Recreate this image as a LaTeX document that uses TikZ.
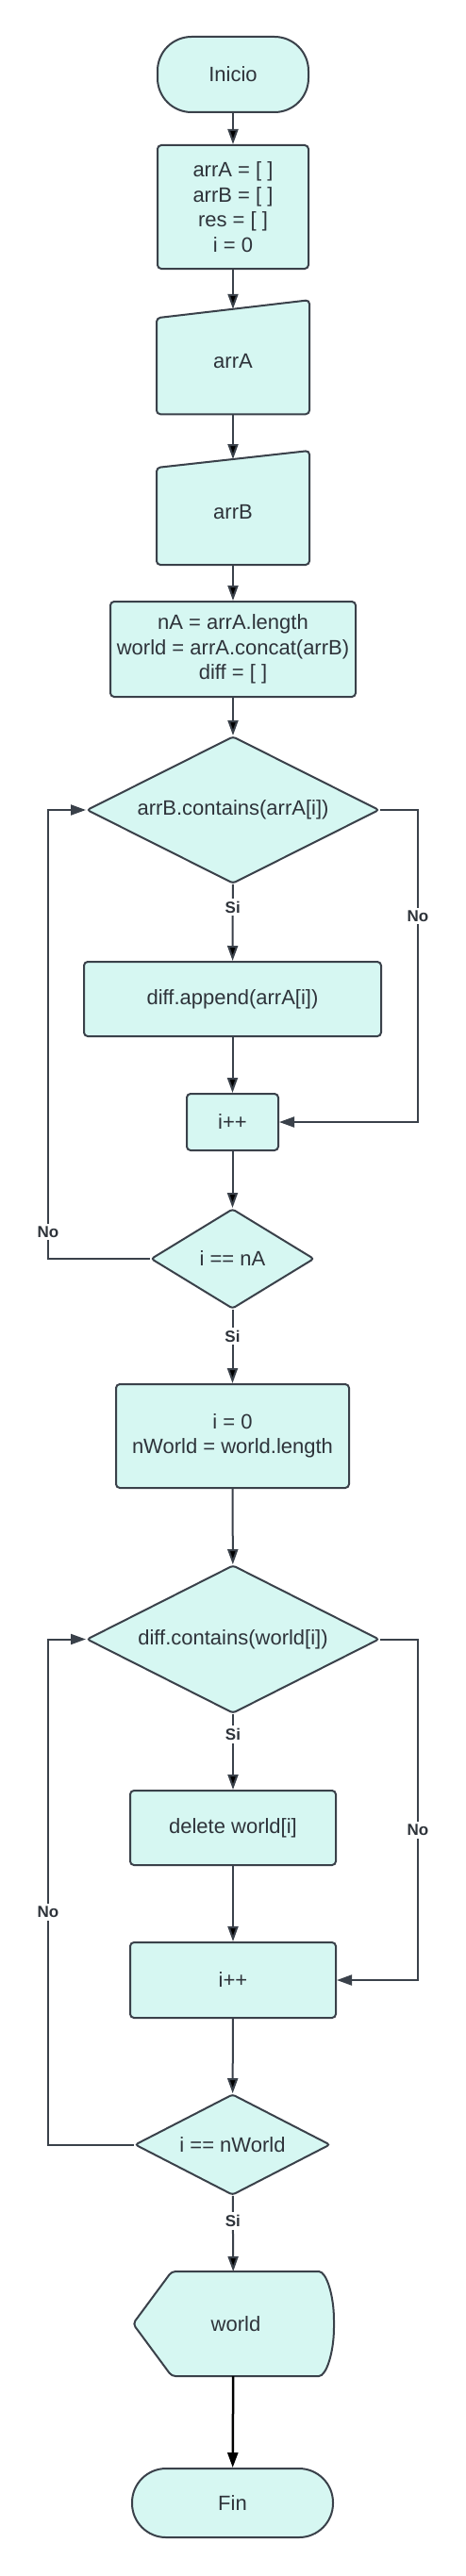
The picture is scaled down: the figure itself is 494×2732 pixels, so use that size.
\documentclass[tikz,border=0pt]{standalone}
\usepackage{fontspec}
\setmainfont{Liberation Sans}
\usetikzlibrary{arrows.meta,shapes.geometric,backgrounds}

\definecolor{mint}{HTML}{D6F7F2}
\definecolor{ink}{HTML}{3A414A}
\definecolor{txt}{HTML}{2E333A}

\tikzset{
  box/.style={shape=rectangle,draw=ink,line width=2pt,fill=mint,rounded corners=4pt,
              inner sep=0pt,align=center,text=txt,font=\fontsize{22}{26.5}\selectfont},
  term/.style={box,rounded corners=36pt},
  cond/.style={box,shape=diamond,rounded corners=3pt,aspect=2},
  io/.style={box,draw=none,fill=none},
  flow/.style={draw=ink,line width=2pt,-{Triangle[length=16pt,width=11pt]}},
  lbl/.style={fill=white,inner sep=3pt,text=txt,font=\fontsize{17}{17}\selectfont\bfseries}
}

\begin{document}
\begin{tikzpicture}[x=1pt,y=-1pt]
    \useasboundingbox (0,0) rectangle (494,2732);
    \node[term,minimum width=160pt,minimum height=80pt] (ini) at (247,79) {Inicio};
    \node[box,minimum width=160pt,minimum height=131pt] (vars) at (247,219.5) {arrA = [ ]\\arrB = [ ]\\res = [ ]\\i = 0};
    \node[io,minimum width=160pt,minimum height=109.5pt] (inA) at (247,383.5) {arrA};
    \node[io,minimum width=160pt,minimum height=110pt] (inB) at (247,543) {arrB};
    \node[box,minimum width=260pt,minimum height=101pt] (asg) at (247,688.5) {nA = arrA.length\\world = arrA.concat(arrB)\\diff = [ ]};
    \node[cond,minimum width=310pt,minimum height=156pt] (chkA) at (247,859) {arrB.contains(arrA[i])};
    \node[box,minimum width=315pt,minimum height=79pt] (app) at (246.5,1059.5) {diff.append(arrA[i])};
    \node[box,minimum width=97pt,minimum height=60pt] (incA) at (246.5,1190) {i++};
    \node[cond,minimum width=173pt,minimum height=106pt] (endA) at (246.5,1335) {i == nA};
    \node[box,minimum width=247pt,minimum height=110pt] (vars2) at (246.5,1523) {i = 0\\nWorld = world.length};
    \node[cond,minimum width=310pt,minimum height=157pt] (chkW) at (247,1738.5) {diff.contains(world[i])};
    \node[box,minimum width=218pt,minimum height=79pt] (del) at (247,1938.5) {delete world[i]};
    \node[box,minimum width=218pt,minimum height=80pt] (incW) at (247,2100) {i++};
    \node[cond,minimum width=207pt,minimum height=107pt] (endW) at (246.5,2274.5) {i == nWorld};
    \node[io,minimum width=211pt,minimum height=109pt] (out) at (247.5,2464.5) {\hspace*{5pt}world};
    \node[term,minimum width=213pt,minimum height=73pt] (fin) at (246.5,2654.5) {Fin};

    % manual input and display outlines
    \begin{scope}[on background layer]
    \draw[draw=ink,fill=mint,line width=2pt,rounded corners=4pt]
      ([yshift=-9.5]inA.north west) -- ([yshift=9.5]inA.north east) -- (inA.south east) -- (inA.south west) -- cycle;
    \draw[draw=ink,fill=mint,line width=2pt,rounded corners=4pt]
      ([yshift=-9]inB.north west) -- ([yshift=9]inB.north east) -- (inB.south east) -- (inB.south west) -- cycle;
    \draw[draw=ink,fill=mint,line width=2pt,rounded corners=4pt]
      (out.west) -- ([xshift=41]out.north west) -- ([xshift=-20]out.north east)
      .. controls ([xshift=-8]out.north east) and ([yshift=30]out.east) .. (out.east)
      .. controls ([yshift=-30]out.east) and ([xshift=-8]out.south east) .. ([xshift=-20]out.south east)
      -- ([xshift=41]out.south west) -- cycle;
    \end{scope}

    \path[flow] (ini) edge (vars);
    \path[flow] (vars) edge (inA);
    \path[flow] (inA) edge (inB);
    \path[flow] (inB) edge (asg);
    \path[flow] (asg) edge (chkA);
    \path[flow] (chkA) edge node[lbl,pos=0.3] {Si} (app);
    \path[flow] (app) edge (incA);
    \path[flow] (incA) edge (endA);
    \path[flow] (endA) edge node[lbl,pos=0.36] {Si} (vars2);
    \draw[flow] (chkA.east) -- ++(40,0) |- node[lbl,pos=0.17] {No} (incA.east);
    \draw[flow] (endA.west) -- ++(-108,0) |- node[lbl,pos=0.03] {No} (chkA.west);

    \path[flow] (vars2) edge (chkW);
    \path[flow] (chkW) edge node[lbl,pos=0.27] {Si} (del);
    \path[flow] (del) edge (incW);
    \path[flow] (incW) edge (endW);
    \path[flow] (endW) edge node[lbl,pos=0.33] {Si} (out);
    \draw[flow] (chkW.east) -- ++(40,0) |- node[lbl,pos=0.28] {No} (incW.east);
    \draw[flow] (endW.west) -- ++(-91,0) |- node[lbl,pos=0.23] {No} (chkW.west);
    \path[flow,draw=black,line width=2.5pt] (out) edge (fin);
\end{tikzpicture}
\end{document}
